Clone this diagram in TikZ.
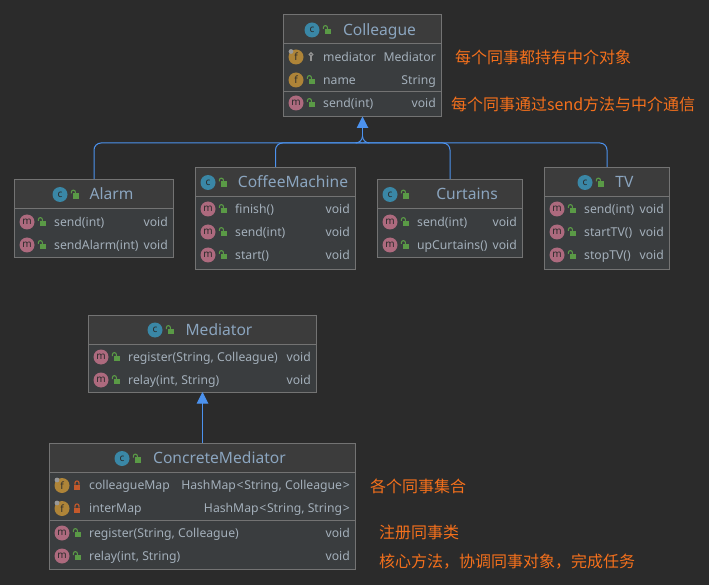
\documentclass[tikz,border=0pt]{standalone}
\usepackage{fontspec}
\setmainfont{Noto Sans}
\newfontfamily\cjkfont{Noto Sans CJK SC}
\usetikzlibrary{arrows.meta}
\definecolor{bgc}{HTML}{2B2B2B}
\definecolor{boxc}{HTML}{3A3D3F}
\definecolor{headc}{HTML}{3C3C3C}
\definecolor{linec}{HTML}{737373}
\definecolor{txtc}{HTML}{A3AFBA}
\definecolor{headt}{HTML}{8BA5BF}
\definecolor{arrowc}{HTML}{4C92EE}
\definecolor{notec}{HTML}{F4701C}
\definecolor{icf}{HTML}{AE8438}
\definecolor{icm}{HTML}{AD6A7E}
\definecolor{icc}{HTML}{3A87A6}
\definecolor{lockg}{HTML}{5A9A46}
\definecolor{lockr}{HTML}{C4592B}
\tikzset{
  umlbox/.style={fill=boxc,inner sep=0pt,outer sep=0pt},
  sep/.style={draw=linec,line width=0.9pt},
  rowtext/.style={text=txtc,font=\fontsize{12.2}{14}\selectfont,inner sep=0pt,anchor=base west},
  rowtype/.style={text=txtc,font=\fontsize{12.2}{14}\selectfont,inner sep=0pt,anchor=base east},
  headtext/.style={text=headt,font=\fontsize{15.6}{17}\selectfont,inner sep=0pt,anchor=base},
  note/.style={text=notec,font=\cjkfont\fontsize{16}{18}\selectfont,inner sep=0pt,anchor=west},
  conn/.style={draw=arrowc,line width=1pt,rounded corners=7pt},
  inh/.style={draw=arrowc,line width=1pt,-{Triangle[length=11.5pt,width=11.5pt,fill=arrowc]}},
  ic/.style={circle,minimum size=15pt,inner sep=0pt,text=bgc,font=\fontsize{10}{10}\selectfont},
}
% open / closed lock icons (the y axis points down, so arcs run 180 to 360 to bulge upward)
\newcommand{\openlock}[2]{%
  \fill[lockg] (#1-1.8,#2-1.2) rectangle (#1+4.4,#2+4.2);
  \draw[lockg,line width=1.1pt] (#1-3.6,#2-1) -- (#1-3.6,#2-2.4) arc[start angle=180,end angle=360,radius=2] -- (#1+0.4,#2-1);}
\newcommand{\closedlock}[2]{%
  \fill[lockr] (#1-3,#2-1) rectangle (#1+3,#2+4.4);
  \draw[lockr,line width=1.1pt] (#1-2,#2-1) -- (#1-2,#2-2.6) arc[start angle=180,end angle=360,radius=2] -- (#1+2,#2-1);}
\newcommand{\keyicon}[2]{%
  \draw[gray!85,line width=1.2pt] (#1,#2-2.5) circle[radius=1.8];
  \draw[gray!85,line width=1.4pt] (#1,#2-0.7) -- (#1,#2+4.2);}
\newcommand{\pinmark}[2]{\fill[gray!80] (#1-5,#2-5.5) circle[radius=2.4];}
% \umlrow{name}{x0}{x1}{y}{letter}{colour}{locktype}{text}{type}
\newcommand{\umlrow}[9]{%
  \node[ic,fill=#6] (#1i) at (#2+13,#4) {#5};
  \ifx g#7\openlock{#2+28}{#4}\fi
  \ifx r#7\closedlock{#2+28}{#4}\fi
  \ifx k#7\keyicon{#2+28}{#4}\fi
  \node[rowtext] (#1t) at (#2+40,#4+4.4) {#8};
  \node[rowtype] (#1v) at (#3-6,#4+4.4) {#9};}
% \umlbase{name}{x0}{y0}{x1}{y1}{ysep}
\newcommand{\umlbase}[6]{%
  \node[umlbox,minimum width=#4-#2,minimum height=#5-#3,anchor=north west] (#1) at (#2,#3) {};
  \fill[headc] (#2,#3) rectangle (#4,#6);
  \draw[sep] (#2,#3) rectangle (#4,#5);
  \draw[sep] (#2,#6) -- (#4,#6);}
% \umlhead{name}{iconx}{y}{letter}{textcentre}{text}
\newcommand{\umlhead}[6]{%
  \node[ic,fill=icc] (#1i) at (#2,#3) {#4};
  \openlock{#2+15}{#3}
  \node[headtext] (#1t) at (#5,#3+5.4) {#6};}
\begin{document}
\begin{tikzpicture}[x=1pt,y=-1pt]
\useasboundingbox (0,0) rectangle (709,585);
\fill[bgc] (0,0) rectangle (709,585);

% Colleague
\umlbase{colleague}{283.5}{14}{441.5}{116.5}{43}
\draw[sep] (283.5,91) -- (441.5,91);
\umlhead{colleagueh}{312}{30}{c}{379.5}{Colleague}
\umlrow{cola}{283}{442}{57}{f}{icf}{k}{mediator}{Mediator}
\pinmark{296}{57}
\umlrow{colb}{283}{442}{80}{f}{icf}{g}{name}{String}
\umlrow{colc}{283}{442}{103}{m}{icm}{g}{send(int)}{void}

% Alarm
\umlbase{alarm}{14.5}{179}{173.5}{257}{208}
\umlhead{alarmh}{60}{194.5}{c}{111.5}{Alarm}
\umlrow{ala}{14}{174}{222}{m}{icm}{g}{send(int)}{void}
\umlrow{alb}{14}{174}{245}{m}{icm}{g}{sendAlarm(int)}{void}

% CoffeeMachine
\umlbase{coffee}{195.5}{167}{355.5}{269}{196}
\umlhead{coffeeh}{208}{182.5}{c}{293}{CoffeeMachine}
\umlrow{cofa}{195}{356}{209}{m}{icm}{g}{finish()}{void}
\umlrow{cofb}{195}{356}{232}{m}{icm}{g}{send(int)}{void}
\umlrow{cofc}{195}{356}{255}{m}{icm}{g}{start()}{void}

% Curtains
\umlbase{curtains}{377.5}{179}{522.5}{257}{208}
\umlhead{curtainsh}{390}{194.5}{c}{467}{Curtains}
\umlrow{cura}{377}{523}{222}{m}{icm}{g}{send(int)}{void}
\umlrow{curb}{377}{523}{245}{m}{icm}{g}{upCurtains()}{void}

% TV
\umlbase{tv}{544.5}{167}{669.5}{269}{196}
\umlhead{tvh}{585}{182.5}{c}{624.5}{TV}
\umlrow{tva}{544}{670}{209}{m}{icm}{g}{send(int)}{void}
\umlrow{tvb}{544}{670}{232}{m}{icm}{g}{startTV()}{void}
\umlrow{tvc}{544}{670}{255}{m}{icm}{g}{stopTV()}{void}

% Mediator
\umlbase{mediator}{88.5}{315}{316.5}{392}{344}
\umlhead{mediatorh}{155}{330}{c}{219}{Mediator}
\umlrow{meda}{88}{317}{357}{m}{icm}{g}{register(String, Colleague)}{void}
\umlrow{medb}{88}{317}{380}{m}{icm}{g}{relay(int, String)}{void}

% ConcreteMediator
\umlbase{concrete}{49.5}{443}{355.5}{569}{472}
\draw[sep] (49.5,520) -- (355.5,520);
\umlhead{concreteh}{122}{458.5}{c}{219.5}{ConcreteMediator}
\umlrow{cona}{49}{356}{485.5}{f}{icf}{r}{colleagueMap}{HashMap\kern.7pt<\kern.7ptString, Colleague\kern.7pt>}
\pinmark{62}{485.5}
\umlrow{conb}{49}{356}{508.5}{f}{icf}{r}{interMap}{HashMap\kern.7pt<\kern.7ptString, String\kern.7pt>}
\pinmark{62}{508.5}
\umlrow{conc}{49}{356}{533}{m}{icm}{g}{register(String, Colleague)}{void}
\umlrow{cond}{49}{356}{556}{m}{icm}{g}{relay(int, String)}{void}

% Connectors
\coordinate (hub) at (362.5,143);
\coordinate (stemb) at (362.5,136);
\draw[conn] (alarm.north) |- (hub);
\draw[conn] (coffee.north) |- (hub);
\draw[conn] (curtains.north) |- (hub);
\draw[conn] (tv.north) |- (hub);
\draw[draw=arrowc,line width=1pt] (hub) ++(-7,0) to[out=0,in=-90] (stemb);
\draw[draw=arrowc,line width=1pt] (hub) ++(7,0) to[out=180,in=-90] (stemb);
\draw[inh] (stemb) -- (colleague.south);
\draw[inh] (concrete.north) -- (mediator.south);

% Notes
\node[note] (n1) at (455,57.5) {每个同事都持有中介对象};
\node[note] (n2) at (451,104.5) {每个同事通过send方法与中介通信};
\node[note] (n3) at (370,486) {各个同事集合};
\node[note] (n4) at (379,532.5) {注册同事类};
\node[note] (n5) at (379,562) {核心方法，协调同事对象，完成任务};
\end{tikzpicture}
\end{document}
